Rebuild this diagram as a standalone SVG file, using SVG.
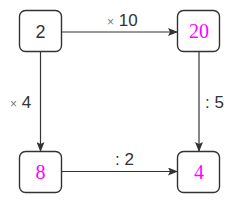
<svg xmlns="http://www.w3.org/2000/svg" width="241" height="200" viewBox="0 0 241 200">
<style>
.box{fill:#fff;stroke:#333;stroke-width:1.4}
.num{font-family:"Liberation Sans",Arial,sans-serif;font-size:18px;fill:#333;text-anchor:middle}
.mag{font-family:"Liberation Serif","Times New Roman",serif;font-size:20px;fill:#ff00ff;text-anchor:middle}
.lbl{font-family:"Liberation Sans",Arial,sans-serif;font-size:17px;fill:#333}
.x{font-size:12px;fill:#777}
.edge{stroke:#333;stroke-width:1.2;fill:none;marker-end:url(#ah)}
</style>
<defs>
<marker id="ah" markerWidth="10" markerHeight="8" refX="9" refY="4" orient="auto" markerUnits="userSpaceOnUse">
<path d="M0,0 L10,4 L0,8 L2,4 Z" fill="#333"/>
</marker>
</defs>
<g id="connectors">
<path class="edge" d="M62,32 H177"/>
<path class="edge" d="M40.5,51 V151"/>
<path class="edge" d="M199,51 V151"/>
<path class="edge" d="M62,171.5 H177"/>
<text class="lbl" x="107" y="26"><tspan class="x">×</tspan> 10</text>
<text class="lbl" x="10" y="108"><tspan class="x">×</tspan> 4</text>
<text class="lbl" x="205" y="108">: 5</text>
<text class="lbl" x="115" y="165">: 2</text>
</g>
<g id="n2"><rect class="box" x="19.5" y="10.5" width="42" height="41" rx="6"/><text class="num" x="40.5" y="38">2</text></g>
<g id="n20"><rect class="box" x="177.5" y="10.5" width="42" height="41" rx="6"/><text class="mag" x="199" y="38">20</text></g>
<g id="n8"><rect class="box" x="19.5" y="151.5" width="42" height="41" rx="6"/><text class="mag" x="40.5" y="179">8</text></g>
<g id="n4"><rect class="box" x="177.5" y="151.5" width="42" height="41" rx="6"/><text class="mag" x="199" y="179">4</text></g>
</svg>
